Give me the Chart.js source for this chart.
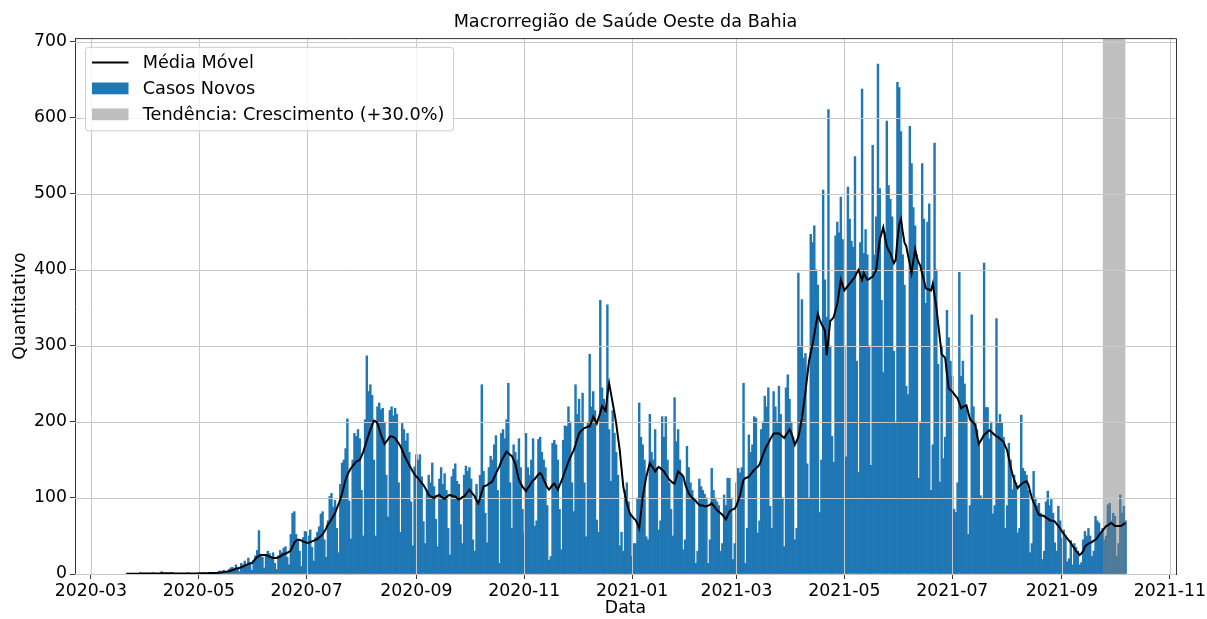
<!DOCTYPE html>
<html>
<head>
<meta charset="utf-8">
<title>Macrorregião de Saúde Oeste da Bahia</title>
<script src="https://cdn.jsdelivr.net/npm/chart.js@4.4.1/dist/chart.umd.min.js"></script>
<style>
  html, body { margin: 0; padding: 0; background: #fff; }
  #wrap { width: 1207px; height: 619px; }
</style>
</head>
<body>
<div id="wrap"><canvas id="grafico" width="1207" height="619"></canvas></div>
<script>
const titulo = 'Macrorregião de Saúde Oeste da Bahia';
const inicioSerie = '2020-03-21';

// casos novos por dia, a partir de inicioSerie (um mês por linha)
const casosNovos = [
  0,0,1,0,0,1,0,0,2,0,1,
  0,1,0,0,2,0,1, 0,0,3,1,0,0,1, 0,2,0,1,0,0,1, 1,0,0,2,1,0,0, 1,0,
  1,0,0,2,1,1,2, 1,1,0,2,3,4,2, 5,3,1,6,8,9,7, 12,8,3,14,12,17,13, 21,15,5,
  18,24,31,57,26,22,8, 25,30,27,22,28,14,6, 24,31,28,34,36,22,12, 52,80,82,52,44,30,10, 48,56,
  55,50,58,35,17,48,55, 62,79,82,45,22,70,102, 106,88,97,60,28,118,146, 150,165,204,96,46,150,185, 181,190,178,
  110,50,203,287,240,249,235, 150,50,220,225,216,218,200, 130,75,215,220,208,218,210, 120,55,198,190,175,185,160, 95,37,141,
  157,150,157,128,69,40,110, 130,120,146,115,72,36,125, 140,118,132,110,60,25,128, 138,145,122,118,65,40,130, 142,135,
  140,125,45,30,118,95,130, 249,135,80,41,140,155,150, 170,182,110,14,185,190,178, 203,251,120,60,170,160,150, 178,140,85,
  54,185,140,130,150,178,63, 70,177,180,160,150,140,90, 18,23,172,176,170,150,85, 32,176,195,194,220,200,120, 82,249,
  210,230,200,238,120,49,200, 289,220,240,215,71,55,360, 245,230,210,354,190,122,215, 185,160,130,37,55,30,110, 120,95,80,
  23,40,40,100,225,180,170, 150,49,45,210,160,150,190, 140,58,70,207,180,207,150, 120,85,50,232,174,190,150, 130,32,45,
  168,140,120,110,100,14,30, 125,115,110,105,100,14,45, 139,110,100,95,90,30,40, 104,90,126,126,100,19,40,
  120,139,133,140,251,14,60, 183,160,170,207,205,54,70, 190,200,234,220,245,89,60, 240,220,200,247,210,100,36, 245,262,230,
  200,180,45,60,396,300,361, 284,290,145,100,447,436,458, 400,380,81,150,505,387,338, 611,300,181,147,445,463,449, 496,440,
  300,154,509,467,438,430,549, 280,134,436,638,422,453,420, 300,143,564,420,470,671,507, 360,265,450,596,511,493,470, 293,200,647,
  640,582,420,380,247,236,589, 540,482,458,420,126,200,540, 467,356,463,487,110,170,567, 400,276,121,300,152,180,347, 311,280,
  260,85,81,120,397,260,280, 250,220,52,90,341,220,200, 190,170,103,100,409,219,219, 178,200,79,90,336,199,210, 199,180,60,
  90,172,150,111,130,120,54, 60,209,139,135,130,110,28, 40,135,100,90,93,80,19, 30,95,109,90,98,80,41, 30,89,70,
  47,58,50,16,20,44,12, 40,35,30,12,15,45,56, 50,60,50,23,30,76,70, 67,55,60,45,50,91,93, 70,80,
  76,23,40,104,80,89,70
];

// média móvel, mesmas datas
const mediaMovel = [
  0.3,0.3,0.3,0.3,0.3,0.4,0.4,0.4,0.6,0.6,0.6,
  0.6,0.6,0.6,0.6,0.6,0.6,0.6, 0.6,0.6,0.9,1,1,1,1, 1,0.9,0.6,0.6,0.6,0.6,0.7, 0.7,0.7,0.6,0.7,0.7,0.6,0.6, 0.7,0.6,
  1,1,1,1,1.1,1.1,1.3, 1.3,1.3,1.3,1.4,1.6,2,2.1, 2.6,2.9,3,3.6,4.3,5.3,6, 7,7.7,8,9.1,9.7,11,11.9, 13.1,14.1,14.4,
  17,20,22,24,25,25,25, 25,24,23,22,21,21,21, 22,23,25,26,27,28,29, 31,36,41,44,45,45,44, 43,42,
  41,41,42,43,44,45,46, 48,50,52,56,60,65,68, 72,76,80,86,92,98,106, 115,124,130,135,139,142,145, 148,149,150,
  155,161,168,176,183,190,196, 202,201,198,191,183,177,171, 174,177,181,181,180,179,175, 172,168,163,157,152,148,143, 139,135,131,
  128,126,123,120,117,113,109, 104,102,101,100,102,103,104, 102,100,99,101,103,104,103, 102,102,100,98,99,101,102, 105,108,
  111,108,105,102,97,93,100, 108,115,116,117,119,120,122, 127,132,137,142,148,153,157, 161,159,157,155,150,144,134, 124,119,115,
  112,109,113,116,120,123,125, 128,131,133,130,124,119,114, 111,114,117,119,115,111,117, 122,128,135,141,148,153,158, 163,170,
  178,185,188,190,192,193,194, 194,200,207,203,198,205,212, 221,218,214,235,251,238,225, 212,198,180,163,139,115,104, 93,85,78,
  76,73,71,66,60,81,102, 115,128,137,146,142,139,135, 138,141,139,137,135,131,128, 124,122,120,119,127,135,133, 131,128,118,
  112,106,103,100,98,96,93, 91,90,90,89,89,90,91, 93,90,87,84,82,80,78, 75,72,77,82,84,85,86,
  90,97,104,114,124,126,127, 128,131,134,137,139,141,144, 150,157,163,168,172,177,181, 185,185,185,185,183,181,179, 183,186,190,
  186,178,170,175,180,192,205, 222,240,260,280,291,302,315, 329,342,335,329,325,320,288, 310,333,335,338,347,356,371, 387,380,
  373,376,379,382,385,388,391, 396,400,393,387,396,391,387, 388,390,391,396,400,420,440, 448,456,443,431,426,422,415, 409,413,440,
  460,467,450,436,431,419,408, 396,412,427,416,410,405,395, 386,376,375,374,373,382,366, 351,330,310,289,287,284,264, 244,242,
  240,237,234,231,225,218,220, 221,222,213,204,201,199,196, 183,171,175,179,183,185,187, 189,187,185,183,181,180,178, 176,174,168,
  163,152,141,132,124,118,113, 116,118,120,121,122,118,109, 100,94,89,83,78,77,77, 76,74,73,71,70,70,69, 66,63,60,
  56,53,50,47,44,41,37, 34,30,28,25,27,30,36, 38,40,41,42,44,45,48, 51,54,57,60,63,64,66, 67,65,
  63,63,63,63,64,66,67
];

const tendencia = ['2021-09-24', '2021-10-07'];
const rotuloTendencia = 'Tendência: Crescimento (+30.0%)';
const rotulosX = ['2020-03','2020-05','2020-07','2020-09','2020-11','2021-01','2021-03','2021-05','2021-07','2021-09','2021-11'];
const rotulosY = [0, 100, 200, 300, 400, 500, 600, 700];

// dias contados a partir de 2020-03-01
function dia(s) {
  const p = s.split('-').map(Number);
  return (Date.UTC(p[0], p[1] - 1, p[2]) - Date.UTC(2020, 2, 1)) / 864e5;
}

const d0 = dia(inicioSerie);
const yMax = 705;
const fonte = "'DejaVu Sans', sans-serif";

const grade = {
  id: 'grade',
  beforeDatasetDraw(chart, args) {
    if (args.index !== 1) return;
    const {ctx, chartArea: a, scales: {x, y}} = chart;
    ctx.save();
    ctx.strokeStyle = '#c9c9c9';
    ctx.lineWidth = 1;
    ctx.beginPath();
    x.ticks.forEach(t => {
      const px = Math.round(x.getPixelForValue(t.value)) + 0.5;
      ctx.moveTo(px, a.top); ctx.lineTo(px, a.bottom);
    });
    y.ticks.forEach(t => {
      const py = Math.round(y.getPixelForValue(t.value)) + 0.5;
      ctx.moveTo(a.left, py); ctx.lineTo(a.right, py);
    });
    ctx.stroke();
    ctx.restore();
  }
};

const moldura = {
  id: 'moldura',
  afterDraw(chart) {
    const {ctx, chartArea: a} = chart;
    ctx.save();
    ctx.strokeStyle = '#333';
    ctx.lineWidth = 1;
    ctx.beginPath();
    ctx.moveTo(a.left, a.top + 0.5); ctx.lineTo(a.right + 0.5, a.top + 0.5);
    ctx.lineTo(a.right + 0.5, a.bottom);
    ctx.stroke();
    ctx.restore();
  }
};

const legenda = {
  id: 'legenda',
  afterDraw(chart) {
    const {ctx, chartArea: a} = chart;
    const ds = chart.data.datasets;
    const itens = [
      {tipo: 'linha', cor: ds[1].borderColor, texto: ds[1].label},
      {tipo: 'caixa', cor: ds[0].backgroundColor, texto: ds[0].label},
      {tipo: 'caixa', cor: ds[2].backgroundColor, texto: ds[2].label}
    ];
    ctx.save();
    ctx.font = '17.7px ' + fonte;
    const maxW = Math.max(...itens.map(i => ctx.measureText(i.texto).width));
    const bx = a.left + 10, by = a.top + 8.7;
    const bw = 57.7 + maxW + 8.5, bh = 83.5;
    ctx.fillStyle = 'rgba(255,255,255,0.8)';
    ctx.strokeStyle = '#cccccc';
    ctx.lineWidth = 1;
    ctx.beginPath();
    if (ctx.roundRect) ctx.roundRect(bx + 0.5, by + 0.5, bw, bh, 3); else ctx.rect(bx + 0.5, by + 0.5, bw, bh);
    ctx.fill();
    ctx.stroke();
    itens.forEach((it, i) => {
      const base = by + 21.6 + 25.9 * i;
      if (it.tipo === 'linha') {
        ctx.strokeStyle = it.cor;
        ctx.lineWidth = 2;
        ctx.beginPath();
        ctx.moveTo(bx + 7, base - 6); ctx.lineTo(bx + 43.5, base - 6);
        ctx.stroke();
      } else {
        ctx.fillStyle = it.cor;
        ctx.fillRect(bx + 7, base - 11.8, 36.5, 11.8);
      }
      ctx.fillStyle = '#000';
      ctx.textBaseline = 'alphabetic';
      ctx.fillText(it.texto, bx + 57.7, base);
    });
    ctx.restore();
  }
};

new Chart(document.getElementById('grafico'), {
  type: 'bar',
  data: {
    datasets: [
      {
        label: 'Casos Novos',
        data: casosNovos.map((v, i) => ({x: d0 + i, y: v})),
        backgroundColor: '#1f77b4',
        borderWidth: 0,
        barPercentage: 1,
        categoryPercentage: 1,
        order: 2
      },
      {
        type: 'line',
        label: 'Média Móvel',
        data: mediaMovel.map((v, i) => ({x: d0 + i, y: v})),
        borderColor: '#000',
        borderWidth: 2,
        pointRadius: 0,
        tension: 0,
        fill: false,
        order: 0
      },
      {
        type: 'line',
        label: rotuloTendencia,
        data: tendencia.map(t => ({x: dia(t), y: yMax})),
        borderColor: 'transparent',
        borderWidth: 0,
        pointRadius: 0,
        backgroundColor: 'rgba(128,128,128,0.5)',
        fill: 'origin',
        order: 1
      }
    ]
  },
  options: {
    responsive: false,
    animation: false,
    devicePixelRatio: 1,
    events: [],
    layout: { padding: { left: 0, right: 31, top: 0, bottom: 0 } },
    plugins: {
      legend: { display: false },
      tooltip: { enabled: false },
      title: {
        display: true,
        text: titulo,
        fullSize: false,
        color: '#000',
        font: { family: fonte, size: 17.6, weight: 'normal' },
        padding: { top: 12, bottom: 5 }
      }
    },
    scales: {
      x: {
        type: 'linear',
        min: dia('2020-02-21'),
        max: dia('2021-11-04') + 0.5,
        offset: false,
        grid: { offset: false, drawOnChartArea: false, color: 'rgba(0,0,0,0)', tickColor: '#333', tickLength: 5 },
        border: { color: '#333', width: 1 },
        afterBuildTicks(scale) { scale.ticks = rotulosX.map(r => ({value: dia(r + '-01')})); },
        afterFit(scale) { scale.height = 45; scale.paddingLeft = 0; scale.paddingRight = 0; },
        ticks: {
          autoSkip: false, maxRotation: 0, minRotation: 0, padding: 2,
          color: '#000', font: { family: fonte, size: 17.3 },
          callback: (v, i) => rotulosX[i]
        },
        title: { display: true, text: 'Data', color: '#000', font: { family: fonte, size: 17.3 }, padding: { top: 0, bottom: 0 } }
      },
      y: {
        min: 0,
        max: yMax,
        grid: { drawOnChartArea: false, color: 'rgba(0,0,0,0)', tickColor: '#333', tickLength: 5 },
        border: { color: '#333', width: 1 },
        afterBuildTicks(scale) { scale.ticks = rotulosY.map(v => ({value: v})); },
        afterFit(scale) { scale.width = 75; scale.paddingTop = 0; scale.paddingBottom = 0; },
        ticks: {
          padding: 3, color: '#000', font: { family: fonte, size: 17.3 },
          callback: v => String(v)
        },
        title: { display: true, text: 'Quantitativo', color: '#000', font: { family: fonte, size: 17.3 }, padding: { top: 10.5, bottom: 0 } }
      }
    }
  },
  plugins: [grade, moldura, legenda]
});
</script>
</body>
</html>
